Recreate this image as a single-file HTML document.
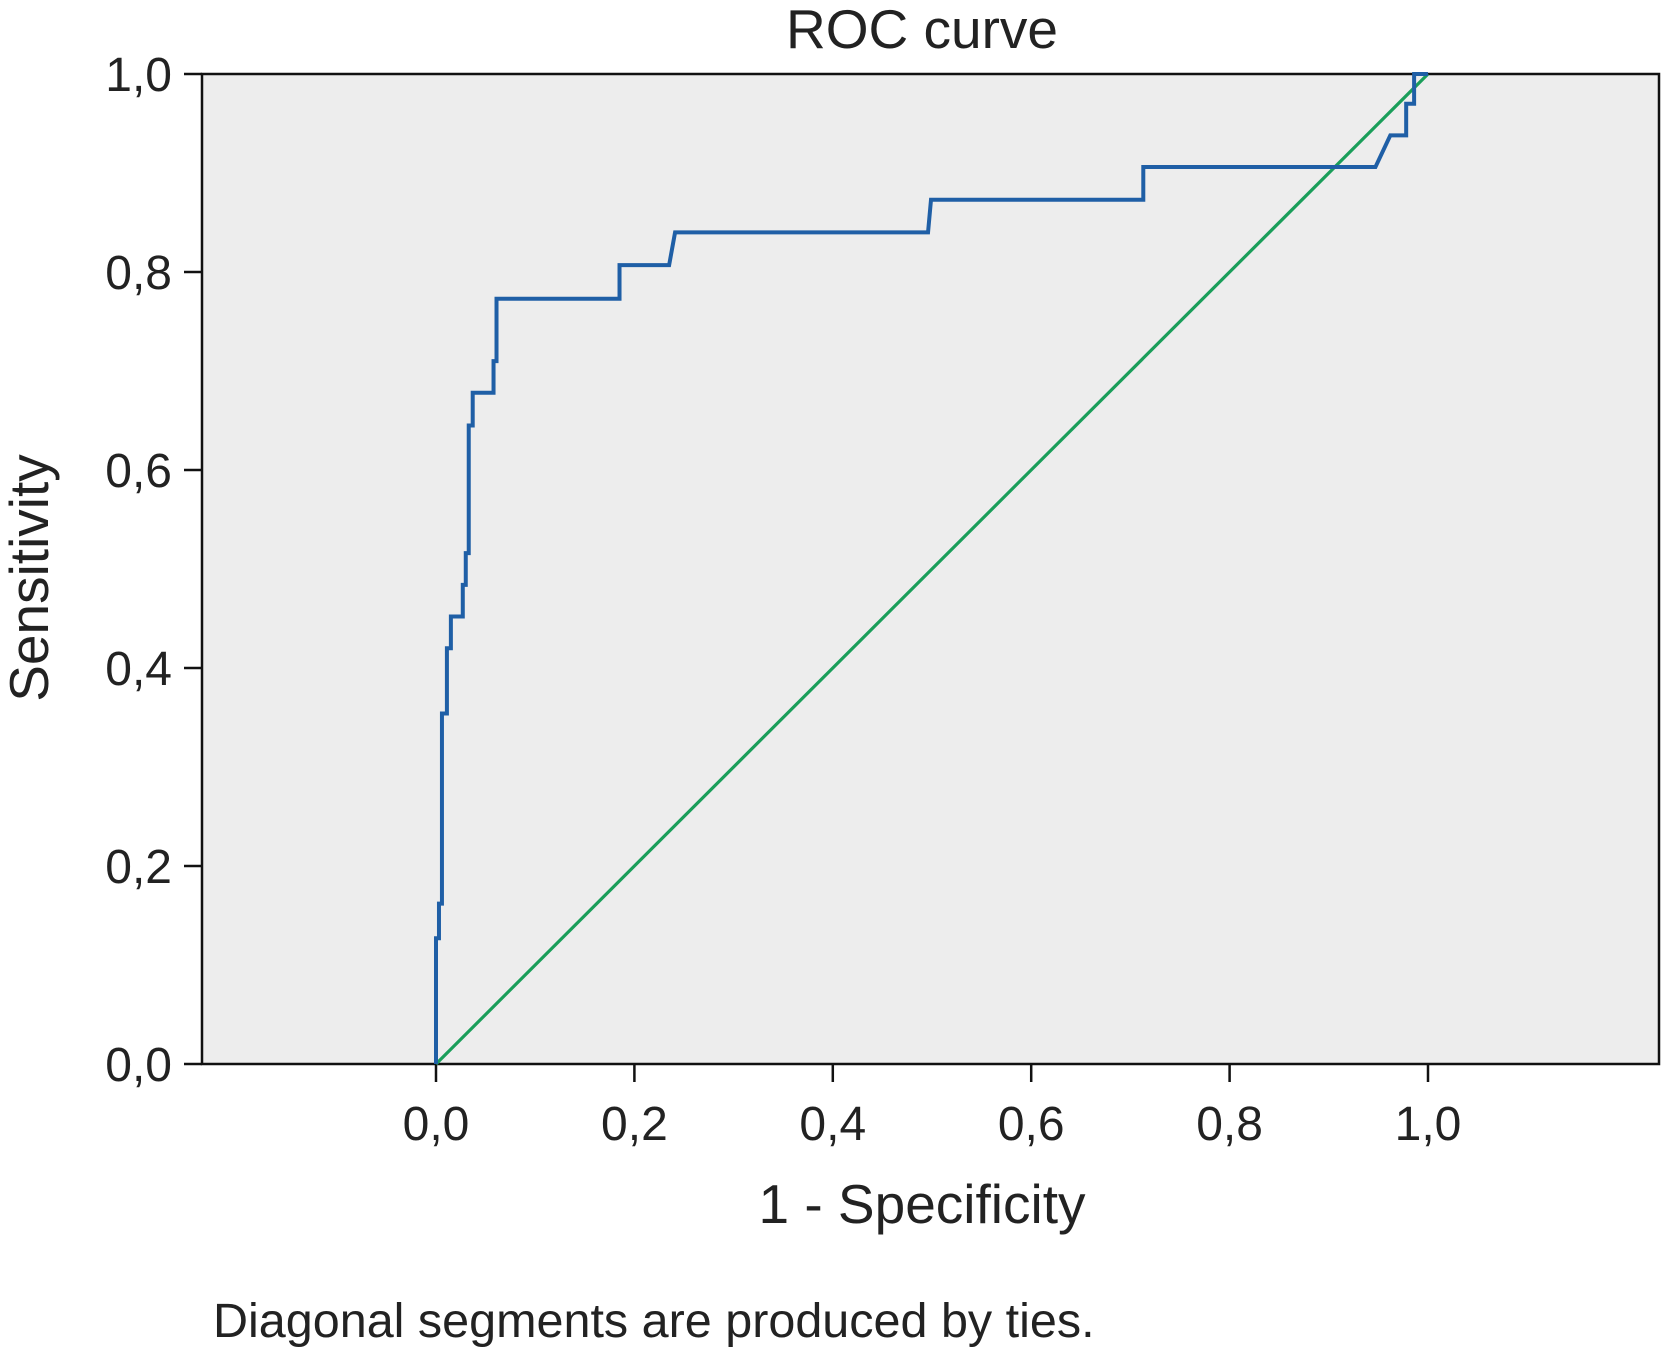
<!DOCTYPE html>
<html><head><meta charset="utf-8"><style>
body{margin:0;background:#fff;}
svg{display:block;font-family:"Liberation Sans",Arial,sans-serif;}
</style></head><body>
<svg id="chart" width="1662" height="1347" viewBox="0 0 1662 1347" xmlns="http://www.w3.org/2000/svg">
<text x="922" y="48" font-size="55" text-anchor="middle" fill="#222">ROC curve</text>
<rect x="202" y="74" width="1457" height="990" fill="#ededed" stroke="#111" stroke-width="2.5"/>
<g id="yaxis"></g>
<g id="xaxis"></g>
<text transform="translate(48,578) rotate(-90)" font-size="55" text-anchor="middle" fill="#222">Sensitivity</text>
<text x="922" y="1223" font-size="55" text-anchor="middle" fill="#222">1 - Specificity</text>
<text x="213" y="1337" font-size="48.5" fill="#222">Diagonal segments are produced by ties.</text>
<g id="series"></g>
</svg>
<script>
const tickValues=[0,0.2,0.4,0.6,0.8,1.0];
const tickLabels=["0,0","0,2","0,4","0,6","0,8","1,0"];
const fpr=[0,0,0.003,0.003,0.006,0.006,0.011,0.011,0.015,0.015,0.027,0.027,0.030,0.030,0.033,0.033,0.037,0.037,0.058,0.058,0.061,0.061,0.185,0.185,0.235,0.241,0.496,0.499,0.713,0.713,0.947,0.962,0.978,0.978,0.986,0.986,1.0];
const tpr=[0,0.127,0.127,0.162,0.162,0.354,0.354,0.420,0.420,0.452,0.452,0.484,0.484,0.516,0.516,0.645,0.645,0.678,0.678,0.710,0.710,0.773,0.773,0.807,0.807,0.840,0.840,0.873,0.873,0.906,0.906,0.938,0.938,0.970,0.970,1.0,1.0];
const refX=[0,1];
const refY=[0,1];
const NS="http://www.w3.org/2000/svg";
const X=v=>436+v*(1428-436);
const Y=v=>1064-v*(1064-74);
const ya=document.getElementById('yaxis'),xa=document.getElementById('xaxis'),sg=document.getElementById('series');
tickValues.forEach((v,i)=>{
  let l=document.createElementNS(NS,'line');
  
  
  l.setAttribute('x1',184);l.setAttribute('x2',202);l.setAttribute('y1',Y(v));l.setAttribute('y2',Y(v));
  l.setAttribute('stroke','#111');l.setAttribute('stroke-width','2.5');ya.appendChild(l);
  let t=document.createElementNS(NS,'text');
  
  
  t.setAttribute('x',172);t.setAttribute('y',Y(v)+17);t.setAttribute('font-size','48');t.setAttribute('text-anchor','end');t.setAttribute('fill','#222');
  t.textContent=tickLabels[i];ya.appendChild(t);
  let l2=document.createElementNS(NS,'line');
  
  
  l2.setAttribute('x1',X(v));l2.setAttribute('x2',X(v));l2.setAttribute('y1',1064);l2.setAttribute('y2',1082);
  l2.setAttribute('stroke','#111');l2.setAttribute('stroke-width','2.5');xa.appendChild(l2);
  let t2=document.createElementNS(NS,'text');
  
  
  t2.setAttribute('x',X(v));t2.setAttribute('y',1140);t2.setAttribute('font-size','48');t2.setAttribute('text-anchor','middle');t2.setAttribute('fill','#222');
  t2.textContent=tickLabels[i];xa.appendChild(t2);
});
let ref=document.createElementNS(NS,'polyline');


ref.setAttribute('points',refX.map((v,i)=>X(v)+','+Y(refY[i])).join(' '));
ref.setAttribute('fill','none');ref.setAttribute('stroke','#1a9e5a');ref.setAttribute('stroke-width','3.2');
sg.appendChild(ref);
let roc=document.createElementNS(NS,'polyline');


roc.setAttribute('points',fpr.map((v,i)=>X(v)+','+Y(tpr[i])).join(' '));
roc.setAttribute('fill','none');roc.setAttribute('stroke','#1f5fa6');roc.setAttribute('stroke-width','4');
sg.appendChild(roc);
</script>
</body></html>
